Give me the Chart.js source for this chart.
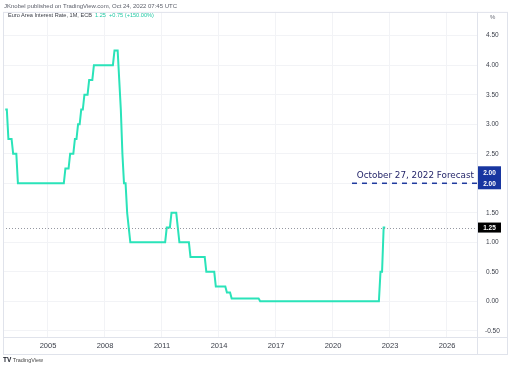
<!DOCTYPE html>
<html>
<head>
<meta charset="utf-8">
<script src="https://cdn.jsdelivr.net/npm/chart.js@4.4.0/dist/chart.umd.min.js"></script>
<style>
  html, body { margin: 0; padding: 0; background: #ffffff; }
  #wrap { position: relative; width: 511px; height: 369px; overflow: hidden; font-family: "Liberation Sans", Arial, sans-serif; }
  canvas { position: absolute; left: 0; top: 0; }
  .txt { position: absolute; white-space: nowrap; line-height: 1; }
</style>
</head>
<body>
<div id="wrap">
  <canvas id="c" width="511" height="369"></canvas>
  <div class="txt" style="left:4px; top:3px; font-size:6px; color:#5d606b;">JKnobel published on TradingView.com, Oct 24, 2022 07:45 UTC</div>
  <div class="txt" style="left:8px; top:13px; font-size:5.6px; color:#3a3d46;">Euro Area Interest Rate, 1M, ECB&nbsp;&nbsp;<span style="color:#22c9a4;">1.25&nbsp;&nbsp;+0.75 (+150.00%)</span></div>
  <div class="txt" style="left:490px; top:14px; font-size:6px; color:#6a6d78;">%</div>
  <div class="txt" style="left:3px; top:357px; font-size:5.5px; color:#444;"><b style="font-size:6.5px; color:#131722;">TV</b> TradingView</div>
</div>
<script>
// ---- data (ECB main refinancing rate, monthly, 1M) ----
const startYear = 2002;
const startMonth = 10; // October 2002
const rates = [
  3.25, 3.25, 2.75,                                                  // 2002 Oct-Dec
  2.75, 2.75, 2.50, 2.50, 2.50, 2.00, 2.00, 2.00, 2.00, 2.00, 2.00, 2.00, // 2003
  2.00, 2.00, 2.00, 2.00, 2.00, 2.00, 2.00, 2.00, 2.00, 2.00, 2.00, 2.00, // 2004
  2.00, 2.00, 2.00, 2.00, 2.00, 2.00, 2.00, 2.00, 2.00, 2.00, 2.00, 2.25, // 2005
  2.25, 2.25, 2.50, 2.50, 2.50, 2.75, 2.75, 3.00, 3.00, 3.25, 3.25, 3.50, // 2006
  3.50, 3.50, 3.75, 3.75, 3.75, 4.00, 4.00, 4.00, 4.00, 4.00, 4.00, 4.00, // 2007
  4.00, 4.00, 4.00, 4.00, 4.00, 4.00, 4.25, 4.25, 4.25, 3.75, 3.25, 2.50, // 2008
  2.00, 2.00, 1.50, 1.25, 1.00, 1.00, 1.00, 1.00, 1.00, 1.00, 1.00, 1.00, // 2009
  1.00, 1.00, 1.00, 1.00, 1.00, 1.00, 1.00, 1.00, 1.00, 1.00, 1.00, 1.00, // 2010
  1.00, 1.00, 1.00, 1.25, 1.25, 1.25, 1.50, 1.50, 1.50, 1.50, 1.25, 1.00, // 2011
  1.00, 1.00, 1.00, 1.00, 1.00, 1.00, 0.75, 0.75, 0.75, 0.75, 0.75, 0.75, // 2012
  0.75, 0.75, 0.75, 0.75, 0.50, 0.50, 0.50, 0.50, 0.50, 0.50, 0.25, 0.25, // 2013
  0.25, 0.25, 0.25, 0.25, 0.25, 0.15, 0.15, 0.15, 0.05, 0.05, 0.05, 0.05, // 2014
  0.05, 0.05, 0.05, 0.05, 0.05, 0.05, 0.05, 0.05, 0.05, 0.05, 0.05, 0.05, // 2015
  0.05, 0.05, 0.00, 0.00, 0.00, 0.00, 0.00, 0.00, 0.00, 0.00, 0.00, 0.00, // 2016
  0.00, 0.00, 0.00, 0.00, 0.00, 0.00, 0.00, 0.00, 0.00, 0.00, 0.00, 0.00, // 2017
  0.00, 0.00, 0.00, 0.00, 0.00, 0.00, 0.00, 0.00, 0.00, 0.00, 0.00, 0.00, // 2018
  0.00, 0.00, 0.00, 0.00, 0.00, 0.00, 0.00, 0.00, 0.00, 0.00, 0.00, 0.00, // 2019
  0.00, 0.00, 0.00, 0.00, 0.00, 0.00, 0.00, 0.00, 0.00, 0.00, 0.00, 0.00, // 2020
  0.00, 0.00, 0.00, 0.00, 0.00, 0.00, 0.00, 0.00, 0.00, 0.00, 0.00, 0.00, // 2021
  0.00, 0.00, 0.00, 0.00, 0.00, 0.00, 0.50, 0.50, 1.25, 1.25              // 2022 Jan-Oct
];
const xTickYears = [2005, 2008, 2011, 2014, 2017, 2020, 2023, 2026];
const yTickValues = [-0.5, 0, 0.5, 1, 1.5, 2, 2.5, 3, 3.5, 4, 4.5];
const forecastLabel = "October 27, 2022 Forecast";
const forecastValue = 2.00;
const forecastFrom = 2021.0;
const xMin = 2002.632, xMax = 2027.58;
const yMin = -0.604, yMax = 4.903;

const lineColor = '#2ae3b9';
const points = rates.map((v, i) => ({ x: startYear + (startMonth - 1 + i) / 12, y: v }));
const lastValue = rates[rates.length - 1];

const frame = {
  id: 'frame',
  beforeDraw(chart) {
    const ctx = chart.ctx;
    ctx.save();
    ctx.fillStyle = '#ffffff';
    ctx.fillRect(0, 0, chart.width, chart.height);
    ctx.restore();
  },
  afterDatasetsDraw(chart) {
    const ctx = chart.ctx, a = chart.chartArea, y = chart.scales.y;
    ctx.save();
    // last value dotted line
    const py = Math.round(y.getPixelForValue(lastValue)) + 0.5;
    ctx.strokeStyle = '#9598a1';
    ctx.lineWidth = 1;
    ctx.setLineDash([1, 2]);
    ctx.beginPath(); ctx.moveTo(a.left, py); ctx.lineTo(a.right, py); ctx.stroke();
    ctx.setLineDash([]);
    // forecast text
    const fy = y.getPixelForValue(forecastValue);
    ctx.fillStyle = '#25266a';
    ctx.font = '500 8.8px "DejaVu Sans"';
    ctx.textAlign = 'right';
    ctx.textBaseline = 'middle';
    ctx.fillText(forecastLabel, a.right - 3, fy - 8);
    ctx.restore();
  },
  afterDraw(chart) {
    const ctx = chart.ctx, a = chart.chartArea, y = chart.scales.y, x = chart.scales.x;
    ctx.save();
    // borders
    ctx.strokeStyle = '#e0e3eb';
    ctx.lineWidth = 1;
    ctx.strokeRect(a.left + 0.5, a.top + 0.5, y.right - a.left - 1, x.bottom - a.top - 1);
    ctx.beginPath();
    ctx.moveTo(a.left, a.bottom + 0.5); ctx.lineTo(y.right, a.bottom + 0.5);
    ctx.moveTo(a.right + 0.5, a.top); ctx.lineTo(a.right + 0.5, x.bottom);
    ctx.stroke();
    // last value badge
    const py = y.getPixelForValue(lastValue);
    ctx.fillStyle = '#000000';
    ctx.fillRect(a.right + 1, py - 5, 23, 10);
    ctx.fillStyle = '#ffffff';
    ctx.font = 'bold 6.5px "Liberation Sans"';
    ctx.textAlign = 'center';
    ctx.textBaseline = 'middle';
    ctx.fillText(lastValue.toFixed(2), a.right + 12.5, py + 0.5);
    // forecast badge
    const fy = y.getPixelForValue(forecastValue);
    ctx.fillStyle = '#1836a0';
    ctx.fillRect(a.right + 1, fy - 17, 23, 23);
    ctx.fillStyle = '#ffffff';
    ctx.fillText(forecastValue.toFixed(2), a.right + 12.5, fy - 10);
    ctx.fillText(forecastValue.toFixed(2), a.right + 12.5, fy + 0.5);
    ctx.restore();
  }
};

new Chart(document.getElementById('c'), {
  type: 'line',
  data: {
    datasets: [
      {
        data: points,
        borderColor: lineColor,
        borderWidth: 2,
        pointRadius: 0,
        tension: 0,
        fill: false
      },
      {
        data: [{ x: forecastFrom, y: forecastValue }, { x: xMax, y: forecastValue }],
        borderColor: '#1f3a9e',
        borderWidth: 1.5,
        borderDash: [5, 5],
        pointRadius: 0,
        fill: false
      }
    ]
  },
  options: {
    responsive: false,
    animation: false,
    devicePixelRatio: 1,
    layout: { padding: { left: 3, top: 9, right: 3, bottom: 14 } },
    plugins: { legend: { display: false }, tooltip: { enabled: false } },
    scales: {
      x: {
        type: 'linear',
        min: xMin, max: xMax,
        afterBuildTicks: s => { s.ticks = xTickYears.map(v => ({ value: v })); },
        afterFit: s => { s.height = 18; },
        grid: { color: '#f2f3f6', drawTicks: false, tickLength: 0 },
        border: { display: false },
        ticks: {
          padding: 4,
          maxRotation: 0,
          autoSkip: false,
          color: '#3a3e49',
          font: { family: 'Liberation Sans', size: 7.5 },
          callback: v => String(v)
        }
      },
      y: {
        type: 'linear',
        position: 'right',
        min: yMin, max: yMax,
        afterBuildTicks: s => { s.ticks = yTickValues.map(v => ({ value: v })); },
        afterFit: s => { s.width = 31; },
        grid: { color: '#f2f3f6', drawTicks: false, tickLength: 0 },
        border: { display: false },
        ticks: {
          padding: 8,
          crossAlign: 'center',
          color: '#3a3e49',
          font: { family: 'Liberation Sans', size: 6.5 },
          callback: v => Number(v).toFixed(2)
        }
      }
    }
  },
  plugins: [frame]
});
</script>
</body>
</html>
